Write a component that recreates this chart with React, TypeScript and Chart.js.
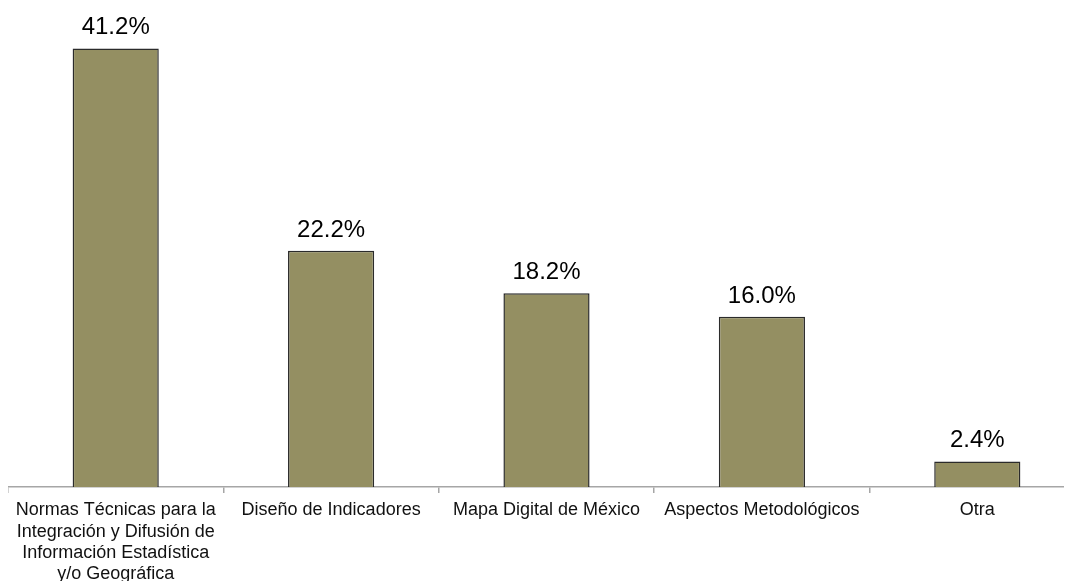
import React, { useEffect, useRef } from "react";
import { Chart, registerables } from "chart.js";

Chart.register(...registerables);

const categories: string[][] = [
  ["Normas Técnicas para la", "Integración y Difusión de", "Información Estadística", "y/o Geográfica"],
  ["Diseño de Indicadores"],
  ["Mapa Digital de México"],
  ["Aspectos Metodológicos"],
  ["Otra"],
];
const values: number[] = [41.2, 22.2, 18.2, 16.0, 2.4];
const valueLabels: string[] = ["41.2%", "22.2%", "18.2%", "16.0%", "2.4%"];

const dataLabelPlugin = {
  id: "dataLabels",
  afterDatasetsDraw(chart: any) {
    const ctx = chart.ctx;
    const meta = chart.getDatasetMeta(0);
    ctx.save();
    ctx.font = '24px "Liberation Sans", Arial, sans-serif';
    ctx.fillStyle = "#000000";
    ctx.textAlign = "center";
    ctx.textBaseline = "alphabetic";
    meta.data.forEach((bar: any, i: number) => {
      ctx.fillText(valueLabels[i], bar.x, bar.y - 14);
    });
    ctx.restore();
  },
};

export default function App() {
  const ref = useRef<HTMLCanvasElement>(null);
  useEffect(() => {
    if (!ref.current) return;
    const chart = new Chart(ref.current, {
      type: "bar",
      data: {
        labels: categories,
        datasets: [
          {
            data: values,
            backgroundColor: "#948F62",
            borderColor: "#2b2b2b",
            borderWidth: 1.5,
            barPercentage: 0.4,
            categoryPercentage: 1,
          },
        ],
      },
      options: {
        responsive: false,
        animation: false,
        layout: { padding: 0 },
        plugins: { legend: { display: false }, tooltip: { enabled: false } },
        scales: {
          y: { display: false, min: 0, max: 45 },
          x: {
            afterFit: (scale: any) => {
              scale.height = 94;
            },
            border: { display: true, color: "#a6a6a6", width: 1.5 },
            grid: {
              display: true,
              drawOnChartArea: false,
              drawTicks: true,
              tickLength: 6,
              color: "#a6a6a6",
              lineWidth: 1.5,
              offset: true,
            },
            ticks: {
              color: "#111111",
              maxRotation: 0,
              autoSkip: false,
              padding: 7,
              font: { family: '"Liberation Sans", Arial, sans-serif', size: 18, lineHeight: 1.17 },
            },
          },
        },
      },
      plugins: [dataLabelPlugin],
    });
    return () => chart.destroy();
  }, []);
  return (
    <div style={{ width: 1064, height: 573, overflow: "hidden" }}>
      <canvas ref={ref} width={1077} height={573} style={{ width: 1077, height: 573, display: "block" }} />
    </div>
  );
}
